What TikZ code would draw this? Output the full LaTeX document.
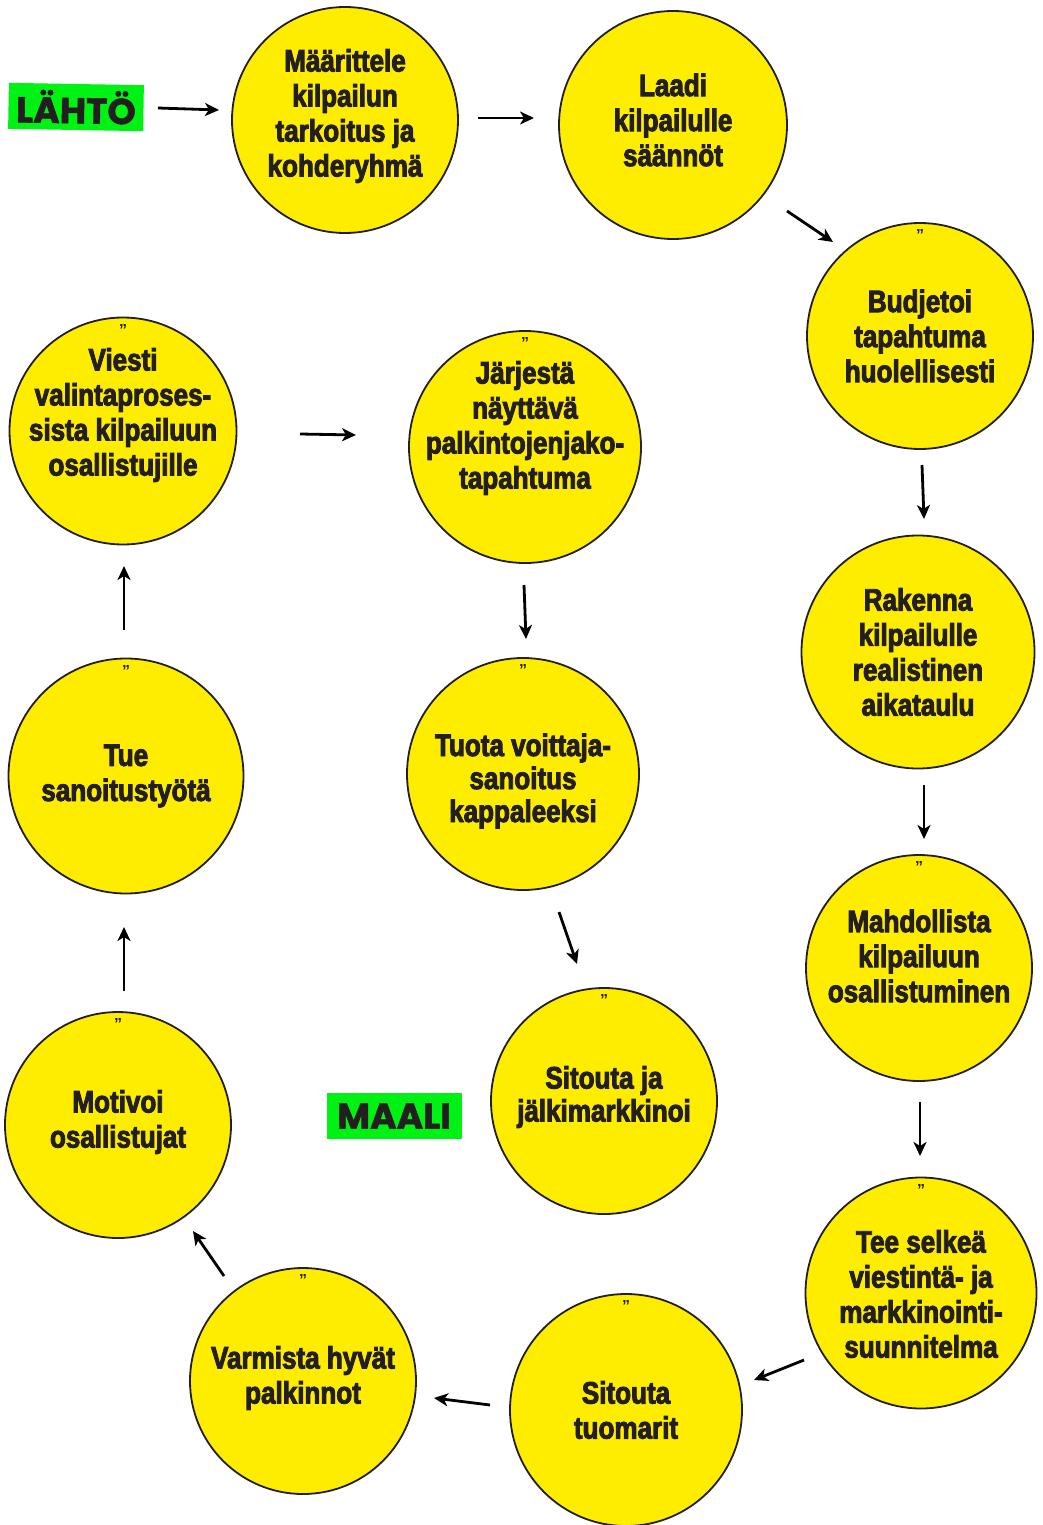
\documentclass[tikz,border=0pt]{standalone}
\usepackage{fontspec}
\setmainfont{Liberation Sans}
\newfontfamily\condfont{Liberation Sans}[FakeStretch=0.84,FakeBold=3]
\newfontfamily\popfont{Poppins}[FakeBold=1.5]
\usetikzlibrary{arrows.meta}
\definecolor{bubyellow}{RGB}{255,237,0}
\definecolor{ink}{RGB}{35,31,32}
\definecolor{startgreen}{RGB}{0,242,20}
\tikzset{
  bub/.style={circle, draw=ink, line width=1.8pt, fill=bubyellow, inner sep=0pt, minimum size=#1},
  btext/.style={align=center, text=ink, inner sep=0pt, font=\condfont\bfseries\fontsize{31}{35}\selectfont},
  qmark/.style={text=ink, inner sep=0pt, font=\bfseries\fontsize{16}{16}\selectfont},
  flag/.style={fill=startgreen, text=ink, inner sep=0pt, minimum width=135pt, minimum height=46pt, font=\popfont\bfseries\fontsize{36}{36}\selectfont},
  arr/.style={draw=black, line width=2.8pt, -{Stealth[length=14pt,width=13pt,inset=4pt]}}
}
% name, x, y, diameter, text, quote?, text raise
\newcommand\bubble[7]{%
  \node[bub=#4, label={[btext,yshift=#7pt]center:{#5}}] (#1) at (#2,#3) {};
  \if#61\node[qmark] (#1q) at (#2,#3-#4/2+12) {”};\fi}
\begin{document}
\begin{tikzpicture}[x=1pt,y=-1pt]
\path[use as bounding box] (0,0) rectangle (1042,1525);
% bubbles
\bubble{n1}{345}{120}{226}{Määrittele\\kilpailun\\tarkoitus ja\\kohderyhmä}{0}{4}
\bubble{n2}{673}{125}{228}{Laadi\\kilpailulle\\säännöt}{0}{5}
\bubble{n3}{920}{336}{226}{Budjetoi\\tapahtuma\\huolellisesti}{1}{0}
\bubble{n4}{918}{652}{233}{Rakenna\\kilpailulle\\realistinen\\aikataulu}{0}{0}
\bubble{n5}{919}{968}{226}{Mahdollista\\kilpailuun\\osallistuminen}{1}{12}
\bubble{n6}{921}{1293}{231}{Tee selkeä\\viestintä- ja\\markkinointi-\\suunnitelma}{1}{-1}
\bubble{n7}{626}{1410}{232}{Sitouta\\tuomarit}{1}{0}
\bubble{n8}{303}{1381}{226}{Varmista hyvät\\palkinnot}{1}{3}
\bubble{n9}{118}{1125}{226}{Motivoi\\osallistujat}{1}{3}
\bubble{n10}{126}{776}{235}{Tue\\sanoitustyötä}{1}{0}
\bubble{n11}{123}{431}{227}{Viesti\\valintaproses-\\sista kilpailuun\\osallistujille}{1}{16}
\bubble{n12}{525}{447}{232}{Järjestä\\näyttävä\\palkintojenjako-\\tapahtuma}{1}{19}
\bubble{n13}{523}{774}{232}{Tuota voittaja-\\[-2pt]sanoitus\\[-2pt]kappaleeksi}{1}{-7}
\bubble{n14}{604}{1101}{226}{Sitouta ja\\[-2pt]jälkimarkkinoi}{1}{4}
% flags
\node[flag, rotate=-1] (start) at (76,107) {LÄHTÖ};
\node[flag] (goal) at (394,1116) {MAALI};
% arrow end points
\coordinate (a0s) at (158,108);  \coordinate (a0e) at (219,110);
\coordinate (a1s) at (478,118);  \coordinate (a1e) at (534,118);
\coordinate (a2s) at (787,211);  \coordinate (a2e) at (833,242);
\coordinate (a3s) at (922,465);  \coordinate (a3e) at (924,519);
\coordinate (a4s) at (924,785);  \coordinate (a4e) at (924,839);
\coordinate (a5s) at (920,1102); \coordinate (a5e) at (920,1156);
\coordinate (a6s) at (804,1360); \coordinate (a6e) at (754,1380);
\coordinate (a7s) at (490,1405); \coordinate (a7e) at (434,1398);
\coordinate (a8s) at (224,1276); \coordinate (a8e) at (193,1231);
\coordinate (a9s) at (124,991);  \coordinate (a9e) at (124,927);
\coordinate (a10s) at (124,630); \coordinate (a10e) at (124,566);
\coordinate (a11s) at (300,434); \coordinate (a11e) at (356,435);
\coordinate (a12s) at (524,585); \coordinate (a12e) at (526,639);
\coordinate (a13s) at (559,912); \coordinate (a13e) at (577,964);
\foreach \i in {0,...,13}{\draw[arr] (a\i s) -- (a\i e);}
\end{tikzpicture}
\end{document}
